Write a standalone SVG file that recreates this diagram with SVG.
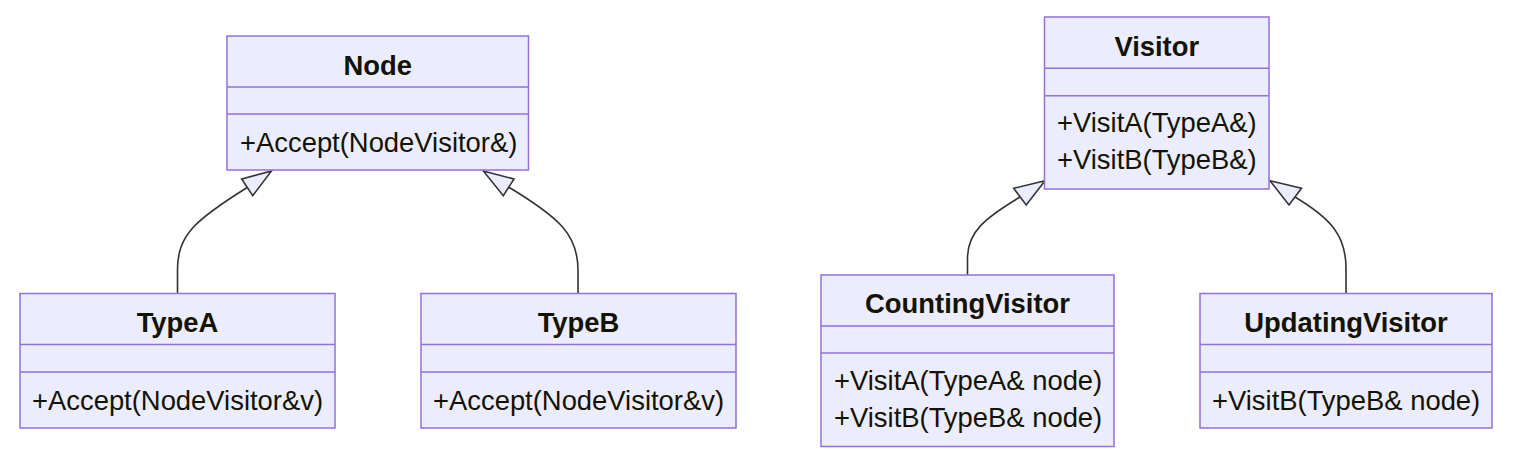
<svg xmlns="http://www.w3.org/2000/svg" width="1513" height="466" viewBox="0 0 1513 466">
<style>
.box{fill:#ECECFF;stroke:#9370DB;stroke-width:1.5}
.div{stroke:#9370DB;stroke-width:1.5}
.t{font-family:"Liberation Sans",Arial,sans-serif;font-size:27.4px;fill:#131300}
.b{font-weight:bold;text-anchor:middle}
.edge{fill:none;stroke:#333333;stroke-width:1.6}
.head{fill:#ECECFF;stroke:#333333;stroke-width:1.6;stroke-linejoin:miter}
</style>
<rect width="1513" height="466" fill="#ffffff"/>
<g id="connectors">
<path class="edge" d="M177.5,293 L177.5,270 C177.5,235 195,220 248,187"/>
<polygon class="head" points="271.5,171 241.7,179 252.7,195.7"/>
<path class="edge" d="M578,293 L578,270 C578,235 560,218 508.5,187"/>
<polygon class="head" points="483.3,171 514,179 503.3,195.7"/>
<path class="edge" d="M967.5,275 L967.5,258 C967.5,232 985,218 1020,197"/>
<polygon class="head" points="1045,180.7 1013.7,188.3 1026.2,205"/>
<path class="edge" d="M1346,293 L1346,268 C1346,235 1330,218 1295,197"/>
<polygon class="head" points="1270,180.7 1301.5,188.3 1289,205"/>
</g>
<g id="Node">
<rect class="box" x="227" y="36" width="301.5" height="134"/>
<line class="div" x1="227" y1="87" x2="528.5" y2="87"/>
<line class="div" x1="227" y1="114" x2="528.5" y2="114"/>
<text class="t b" x="377.75" y="74.5">Node</text>
<text class="t" x="240" y="152">+Accept(NodeVisitor&amp;)</text>
</g>
<g id="TypeA">
<rect class="box" x="20" y="293.5" width="315" height="134.5"/>
<line class="div" x1="20" y1="344.5" x2="335" y2="344.5"/>
<line class="div" x1="20" y1="372" x2="335" y2="372"/>
<text class="t b" x="177.5" y="331.5">TypeA</text>
<text class="t" x="32" y="409.5">+Accept(NodeVisitor&amp;v)</text>
</g>
<g id="TypeB">
<rect class="box" x="421" y="293.5" width="315" height="134.5"/>
<line class="div" x1="421" y1="344.5" x2="736" y2="344.5"/>
<line class="div" x1="421" y1="372" x2="736" y2="372"/>
<text class="t b" x="578.5" y="331.5">TypeB</text>
<text class="t" x="433" y="409.5">+Accept(NodeVisitor&amp;v)</text>
</g>
<g id="Visitor">
<rect class="box" x="1044.5" y="17" width="224.5" height="172"/>
<line class="div" x1="1044.5" y1="68.3" x2="1269" y2="68.3"/>
<line class="div" x1="1044.5" y1="95.7" x2="1269" y2="95.7"/>
<text class="t b" x="1156.75" y="55.5">Visitor</text>
<text class="t" x="1057" y="132">+VisitA(TypeA&amp;)</text>
<text class="t" x="1057" y="168.5">+VisitB(TypeB&amp;)</text>
</g>
<g id="CountingVisitor">
<rect class="box" x="821" y="275" width="293" height="171.5"/>
<line class="div" x1="821" y1="326" x2="1114" y2="326"/>
<line class="div" x1="821" y1="353" x2="1114" y2="353"/>
<text class="t b" x="967.5" y="313">CountingVisitor</text>
<text class="t" x="834" y="390">+VisitA(TypeA&amp; node)</text>
<text class="t" x="834" y="426.5">+VisitB(TypeB&amp; node)</text>
</g>
<g id="UpdatingVisitor">
<rect class="box" x="1200" y="293.5" width="292" height="134.5"/>
<line class="div" x1="1200" y1="344.5" x2="1492" y2="344.5"/>
<line class="div" x1="1200" y1="372" x2="1492" y2="372"/>
<text class="t b" x="1346" y="331.5">UpdatingVisitor</text>
<text class="t" x="1212" y="409.5">+VisitB(TypeB&amp; node)</text>
</g>
</svg>
